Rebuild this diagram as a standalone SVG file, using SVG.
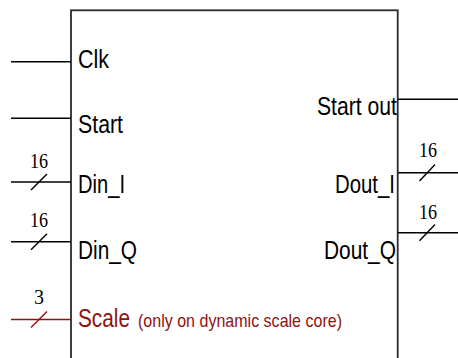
<svg xmlns="http://www.w3.org/2000/svg" width="458" height="358" viewBox="0 0 458 358">
<style>
.box{fill:#fff;stroke:#2a2a2a;stroke-width:1.8}
.w{stroke:#000;stroke-width:1.4;fill:none}
.r{stroke:#8e1212;stroke-width:1.4;fill:none}
.lbl{font-family:"Liberation Sans",Arial,sans-serif;font-size:25px;fill:#000}
.red{fill:#8e1212}
.small{font-size:19px}
.n{font-family:"Liberation Serif","Times New Roman",serif;font-size:20px;fill:#000;text-anchor:middle}
</style>
<rect width="458" height="358" fill="#fff"/>
<g id="block">
<rect class="box" x="71" y="10.3" width="326.7" height="370"/>
<text class="lbl" x="78" y="68" textLength="31" lengthAdjust="spacingAndGlyphs">Clk</text>
<text class="lbl" x="78" y="133" textLength="45" lengthAdjust="spacingAndGlyphs">Start</text>
<text class="lbl" x="78" y="193" textLength="47" lengthAdjust="spacingAndGlyphs">Din_I</text>
<text class="lbl" x="78" y="259" textLength="59" lengthAdjust="spacingAndGlyphs">Din_Q</text>
<text class="lbl red" x="78" y="327" textLength="52" lengthAdjust="spacingAndGlyphs">Scale</text>
<text class="lbl red small" x="138" y="327" textLength="204" lengthAdjust="spacingAndGlyphs">(only on dynamic scale core)</text>
<text class="lbl" x="317" y="115" textLength="80" lengthAdjust="spacingAndGlyphs">Start out</text>
<text class="lbl" x="335" y="193" textLength="60" lengthAdjust="spacingAndGlyphs">Dout_I</text>
<text class="lbl" x="324" y="259" textLength="72" lengthAdjust="spacingAndGlyphs">Dout_Q</text>
</g>
<g id="connectors">
<line class="w" x1="11" y1="61.7" x2="71" y2="61.7"/>
<line class="w" x1="11" y1="118.3" x2="71" y2="118.3"/>
<line class="w" x1="11" y1="182" x2="71" y2="182"/>
<line class="w" x1="31" y1="190" x2="47" y2="174"/>
<line class="w" x1="11" y1="241.7" x2="71" y2="241.7"/>
<line class="w" x1="31" y1="249.7" x2="47" y2="233.7"/>
<line class="r" x1="11" y1="319.5" x2="71" y2="319.5"/>
<line class="r" x1="31" y1="327.5" x2="47" y2="311.5"/>
<line class="w" x1="398" y1="99.3" x2="458" y2="99.3"/>
<line class="w" x1="398" y1="172.7" x2="458" y2="172.7"/>
<line class="w" x1="419.5" y1="181" x2="435" y2="164.5"/>
<line class="w" x1="398" y1="232.7" x2="458" y2="232.7"/>
<line class="w" x1="419.5" y1="240.7" x2="435" y2="224.5"/>
<text class="n" x="39" y="168" textLength="18" lengthAdjust="spacingAndGlyphs">16</text>
<text class="n" x="39" y="227" textLength="18" lengthAdjust="spacingAndGlyphs">16</text>
<text class="n red" x="39" y="304">3</text>
<text class="n" x="428" y="157" textLength="18" lengthAdjust="spacingAndGlyphs">16</text>
<text class="n" x="428" y="218.5" textLength="18" lengthAdjust="spacingAndGlyphs">16</text>
</g>
</svg>
